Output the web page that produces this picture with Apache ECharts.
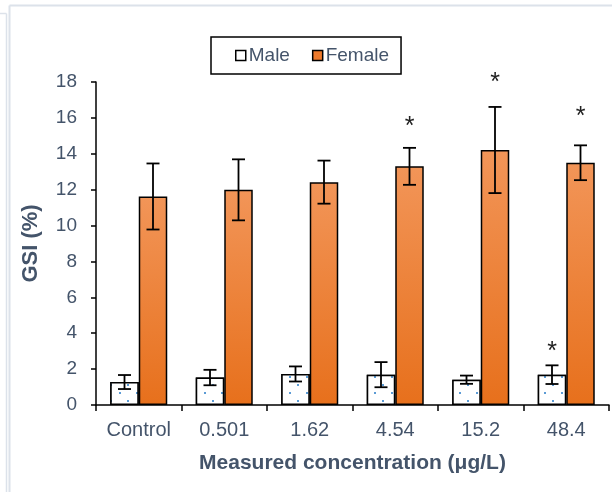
<!DOCTYPE html>
<html>
<head>
<meta charset="utf-8">
<script src="https://cdn.jsdelivr.net/npm/echarts@6/dist/echarts.min.js"></script>
<style>
  html, body { margin: 0; padding: 0; background: #fff; }
  #chart { width: 612px; height: 492px; }
</style>
</head>
<body>
<div id="chart"></div>
<script>
// Gonadosomatic index by measured exposure concentration
const categories = ['Control', '0.501', '1.62', '4.54', '15.2', '48.4'];
const maleGSI = [1.28, 1.53, 1.73, 1.69, 1.41, 1.69];
const maleSD = [0.39, 0.43, 0.42, 0.70, 0.23, 0.52];
const femaleGSI = [11.62, 11.99, 12.42, 13.30, 14.21, 13.50];
const femaleSD = [1.84, 1.70, 1.20, 1.03, 2.40, 0.97];
// significance markers: [category index, series (0 male, 1 female), height]
const maleStars = [[5, 0, 3.3]];
const femaleStars = [[3, 1, 15.8], [4, 1, 18.27], [5, 1, 16.37]];
const yTicks = { min: 0, max: 18, interval: 2 };

const TEXT = '#44546A';
const FONT = 'Liberation Sans, Arial, sans-serif';

const chart = echarts.init(document.getElementById('chart'), null, { renderer: 'canvas' });

const barWidth = 28.5;

function errorSeries(name, values, sds, offsetSign) {
  return {
    type: 'custom',
    name: name + ' SD',
    z: 5,
    data: values.map((v, i) => [i, v, sds[i]]),
    renderItem(params, api) {
      const i = api.value(0), v = api.value(1), sd = api.value(2);
      const c = api.coord([i, v]);
      const x = c[0] + offsetSign * barWidth / 2;
      const top = api.coord([i, v + sd])[1];
      const bot = api.coord([i, v - sd])[1];
      const half = 6.5;
      const style = { stroke: '#000', lineWidth: 1.8 };
      return {
        type: 'group',
        children: [
          { type: 'line', shape: { x1: x, y1: top, x2: x, y2: bot }, style },
          { type: 'line', shape: { x1: x - half, y1: top, x2: x + half, y2: top }, style },
          { type: 'line', shape: { x1: x - half, y1: bot, x2: x + half, y2: bot }, style }
        ]
      };
    }
  };
}

function starSeries(name, stars) {
  return {
    type: 'custom',
    name: name + ' sig',
    z: 6,
    clip: false,
    data: stars,
    renderItem(params, api) {
      const i = api.value(0), s = api.value(1), h = api.value(2);
      const c = api.coord([i, h]);
      const x = c[0] + (s === 0 ? -1 : 1) * barWidth / 2;
      return {
        type: 'text',
        x: x,
        y: c[1] + 6,
        style: {
          text: '*',
          fill: '#222',
          font: '25px ' + FONT,
          textAlign: 'center',
          textVerticalAlign: 'middle'
        }
      };
    }
  };
}

chart.setOption({
  backgroundColor: '#fff',
  animation: false,
  textStyle: { fontFamily: FONT },
  grid: { left: 96, right: 3, top: 82, bottom: 87, containLabel: false },
  legend: {
    left: 211,
    top: 37,
    padding: [9, 12, 9, 24],
    borderColor: '#000',
    borderWidth: 1.5,
    itemWidth: 10,
    itemHeight: 10,
    itemGap: 22,
    textStyle: { color: TEXT, fontSize: 19, fontFamily: FONT, padding: [0, 0, 0, -2] },
    data: [
      { name: 'Male', icon: 'rect', itemStyle: { color: '#fff', borderColor: '#000', borderWidth: 1.5, decal: 'none' } },
      { name: 'Female', icon: 'rect', itemStyle: { color: '#EE7A2C', borderColor: '#000', borderWidth: 1.5 } }
    ]
  },
  xAxis: {
    type: 'category',
    data: categories,
    axisLine: { lineStyle: { color: '#000', width: 1.5 } },
    axisTick: { show: true, length: 6, alignWithLabel: false, lineStyle: { color: '#000', width: 1.5 } },
    axisLabel: { color: TEXT, fontSize: 20, margin: 15 },
    name: 'Measured concentration (μg/L)',
    nameLocation: 'middle',
    nameGap: 48,
    nameTextStyle: { color: TEXT, fontSize: 21, fontWeight: 'bold' }
  },
  yAxis: {
    type: 'value',
    min: yTicks.min,
    max: yTicks.max,
    interval: yTicks.interval,
    splitLine: { show: false },
    axisLine: { show: true, lineStyle: { color: '#000', width: 1.5 } },
    axisTick: { show: true, length: 5, lineStyle: { color: '#000', width: 1.5 } },
    axisLabel: { color: TEXT, fontSize: 19, margin: 19 },
    name: 'GSI (%)',
    nameLocation: 'middle',
    nameGap: 54,
    nameTextStyle: { color: TEXT, fontSize: 22, fontWeight: 'bold' }
  },
  series: [
    {
      name: 'Male',
      type: 'bar',
      data: maleGSI,
      barWidth: barWidth,
      barGap: '0%',
      itemStyle: {
        color: '#fff',
        borderColor: '#000',
        borderWidth: 1.5,
        decal: {
          symbol: 'rect',
          symbolSize: 1,
          color: '#5B9BD5',
          backgroundColor: '#fff',
          dashArrayX: [[2, 15], [0, 8, 2, 7]],
          dashArrayY: [2, 6],
          rotation: 0
        }
      }
    },
    {
      name: 'Female',
      type: 'bar',
      data: femaleGSI,
      barWidth: barWidth,
      itemStyle: {
        color: new echarts.graphic.LinearGradient(0, 0, 0, 1, [
          { offset: 0, color: '#F29558' },
          { offset: 1, color: '#E7701C' }
        ]),
        borderColor: '#000',
        borderWidth: 1.5
      }
    },
    errorSeries('Male', maleGSI, maleSD, -1),
    errorSeries('Female', femaleGSI, femaleSD, 1),
    starSeries('Male', maleStars),
    starSeries('Female', femaleStars)
  ],
  graphic: [
    { type: 'line', shape: { x1: 9.5, y1: 5.5, x2: 612, y2: 5.5 }, style: { stroke: '#DCE2EA', lineWidth: 2 }, silent: true },
    { type: 'line', shape: { x1: 9.5, y1: 5.5, x2: 9.5, y2: 492 }, style: { stroke: '#DCE2EA', lineWidth: 2 }, silent: true },
    { type: 'line', shape: { x1: 0, y1: 13.5, x2: 6.5, y2: 13.5 }, style: { stroke: '#DCE2EA', lineWidth: 1.5 }, silent: true },
    { type: 'line', shape: { x1: 6.5, y1: 13.5, x2: 6.5, y2: 492 }, style: { stroke: '#DCE2EA', lineWidth: 1.5 }, silent: true }
  ]
});
</script>
</body>
</html>
